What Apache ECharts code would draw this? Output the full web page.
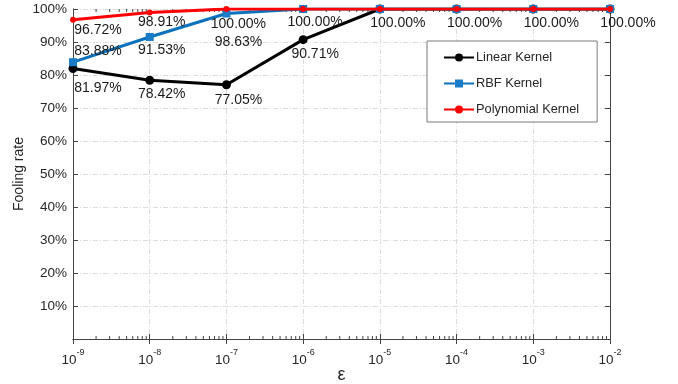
<!DOCTYPE html>
<html>
<head>
<meta charset="utf-8">
<script src="https://cdn.jsdelivr.net/npm/echarts@6/dist/echarts.min.js"></script>
<style>html,body{margin:0;padding:0;background:#fff}#c{width:678px;height:384px}</style>
</head>
<body>
<div id="c"></div>
<script>
// ---- data ----
const epsilons = [1e-9, 1e-8, 1e-7, 1e-6, 1e-5, 1e-4, 1e-3, 1e-2];
const linearKernel = [81.97, 78.42, 77.05, 90.71, 100, 100, 100, 100];
const rbfKernel = [83.88, 91.53, 98.63, 100, 100, 100, 100, 100];
const polyKernel = [96.72, 98.91, 100, 100, 100, 100, 100, 100];
const seriesNames = ['Linear Kernel', 'RBF Kernel', 'Polynomial Kernel'];
const yTickValues = [10, 20, 30, 40, 50, 60, 70, 80, 90, 100];
const minorMultipliers = [2, 3, 4, 5, 6, 7, 8, 9];

// ---- label layout (pixel offsets from each point; null = hidden duplicate) ----
const linearLabelDy = [20, 14, 15, 14, null, null, null, null];
const rbfLabelDy = [-11, 13, 29, null, null, null, null, null];
const polyLabelDy = [10, 10, 15, 13, 14, 14, 14, 14];

const FONT = 'Liberation Sans, Arial, Helvetica, sans-serif';
const TXT = '#262626';

function buildData(vals, dys) {
  return vals.map((v, i) => {
    const dy = dys[i];
    const dx = i === 0 ? 25 : (i >= 4 ? 18 : 12);
    return {
      value: [epsilons[i], v],
      label: dy === null ? { show: false } : {
        show: true, position: 'inside', offset: [dx, dy],
        formatter: v.toFixed(2) + '%', color: '#1a1a1a', fontSize: 14, fontFamily: FONT,
        align: 'center', verticalAlign: 'middle'
      }
    };
  });
}

const minorTicks = [];
for (let i = 0; i < epsilons.length - 1; i++) {
  minorMultipliers.forEach(m => minorTicks.push([epsilons[i] * m, 0]));
}

const chart = echarts.init(document.getElementById('c'), null, { renderer: 'canvas' });
const gridDash = { color: '#dcdcdc', width: 1, type: [5, 2, 1, 2] };

chart.setOption({
  animation: false,
  backgroundColor: '#fff',
  grid: { left: 73, right: 68, top: 9, bottom: 45, containLabel: false, outerBoundsMode: 'none' },
  legend: {
    data: seriesNames,
    orient: 'vertical',
    left: 427, top: 41,
    padding: [10, 18, 6, 16],
    itemGap: 13,
    itemWidth: 30, itemHeight: 10,
    backgroundColor: '#fff',
    borderColor: '#7a7a7a', borderWidth: 1,
    textStyle: { fontSize: 12.8, fontFamily: FONT, color: TXT, padding: [0, 0, 0, -3] }
  },
  xAxis: [{
    type: 'log', logBase: 10, min: 1e-9, max: 1e-2, splitNumber: 7,
    name: 'ε', nameLocation: 'middle', nameGap: 27, nameMoveOverlap: false,
    nameTextStyle: { fontSize: 18, color: TXT, fontFamily: FONT },
    axisLine: { lineStyle: { color: '#444', width: 1 } },
    axisTick: { inside: true, length: 5, lineStyle: { color: '#444' } },
    splitLine: { show: true, lineStyle: gridDash },
    axisLabel: {
      margin: 8,
      formatter: v => '{b|10}{s|' + Math.round(Math.log10(v)) + '}',
      rich: {
        b: { fontSize: 13.5, color: TXT, fontFamily: FONT, padding: [6, 0, 0, 0] },
        s: { fontSize: 9, color: TXT, fontFamily: FONT, padding: [0, 0, 8, 0] }
      }
    }
  }, {
    type: 'log', logBase: 10, min: 1e-9, max: 1e-2, splitNumber: 7, position: 'top',
    axisLine: { lineStyle: { color: '#444', width: 1 } },
    axisTick: { inside: true, length: 5, lineStyle: { color: '#444' } },
    axisLabel: { show: false }, splitLine: { show: false }
  }],
  yAxis: [{
    type: 'value', min: 0, max: 100, interval: 10,
    name: 'Fooling rate', nameLocation: 'middle', nameGap: 47, nameMoveOverlap: false,
    nameTextStyle: { fontSize: 14, color: TXT, fontFamily: FONT },
    axisLine: { show: true, lineStyle: { color: '#444', width: 1 } },
    axisTick: { show: true, inside: true, length: 5, lineStyle: { color: '#444' } },
    splitLine: { show: true, lineStyle: gridDash },
    axisLabel: {
      margin: 6, fontSize: 13.5, color: TXT, fontFamily: FONT,
      formatter: v => yTickValues.includes(v) ? v + '%' : ''
    }
  }, {
    type: 'value', min: 0, max: 100, interval: 10, position: 'right',
    axisLine: { show: true, lineStyle: { color: '#444', width: 1 } },
    axisTick: { show: true, inside: true, length: 5, lineStyle: { color: '#444' } },
    axisLabel: { show: false }, splitLine: { show: false }
  }],
  series: [
    {
      type: 'custom', name: 'minor', silent: true, clip: false, z: 1,
      data: minorTicks,
      renderItem: (params, api) => {
        const b = api.coord([api.value(0), 0]);
        const t = api.coord([api.value(0), 100]);
        const st = { stroke: '#444', lineWidth: 1 };
        return { type: 'group', children: [
          { type: 'line', shape: { x1: b[0], y1: b[1], x2: b[0], y2: b[1] - 3 }, style: st },
          { type: 'line', shape: { x1: t[0], y1: t[1], x2: t[0], y2: t[1] + 3 }, style: st }
        ] };
      }
    },
    {
      name: seriesNames[0], type: 'line', data: buildData(linearKernel, linearLabelDy),
      color: '#000', lineStyle: { width: 3, color: '#000' },
      symbol: 'circle', symbolSize: 9, itemStyle: { color: '#000' }, z: 3
    },
    {
      name: seriesNames[1], type: 'line', data: buildData(rbfKernel, rbfLabelDy),
      color: '#0a72bd', lineStyle: { width: 3, color: '#0a72bd' },
      symbol: 'rect', symbolSize: 8, itemStyle: { color: '#1a7cc8' }, z: 4
    },
    {
      name: seriesNames[2], type: 'line', data: buildData(polyKernel, polyLabelDy),
      color: '#ff0000', lineStyle: { width: 3, color: '#ff0000' },
      symbol: 'circle', symbolSize: 6, itemStyle: { color: '#ff0000' }, z: 5
    }
  ]
});
</script>
</body>
</html>
